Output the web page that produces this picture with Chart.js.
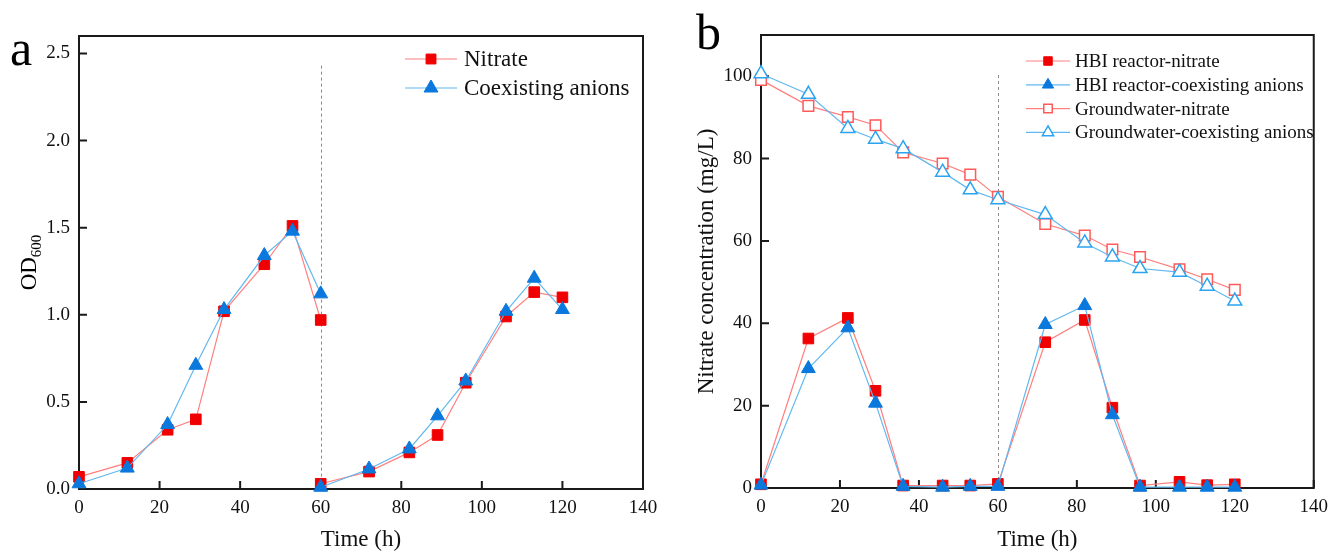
<!DOCTYPE html>
<html>
<head>
<meta charset="utf-8">
<script src="https://cdn.jsdelivr.net/npm/chart.js@4.4.1/dist/chart.umd.min.js"></script>
<style>
  html, body { margin: 0; padding: 0; background: #fff; }
  #wrap { position: relative; width: 1336px; height: 555px; }
  canvas { position: absolute; top: 0; }
  #odChart { left: 0; }
  #no3Chart { left: 668px; }
</style>
</head>
<body>
<div id="wrap">
  <canvas id="odChart" width="668" height="555"></canvas>
  <canvas id="no3Chart" width="668" height="555"></canvas>
</div>
<script>
// (a) OD600 over two feeding cycles, split at 60 h
const cycle1Time = [0, 12, 22, 29, 36, 46, 53, 60];
const cycle2Time = [60, 72, 82, 89, 96, 106, 113, 120];
const odNitrate1 = [0.07, 0.15, 0.34, 0.40, 1.02, 1.29, 1.51, 0.97];
const odNitrate2 = [0.03, 0.10, 0.21, 0.31, 0.61, 0.99, 1.13, 1.10];
const odAnions1 = [0.03, 0.12, 0.37, 0.71, 1.03, 1.34, 1.48, 1.12];
const odAnions2 = [0.01, 0.115, 0.23, 0.42, 0.62, 1.02, 1.21, 1.03];

// (b) nitrate concentration (mg/L)
const sampleTime = [0, 12, 22, 29, 36, 46, 53, 60, 72, 82, 89, 96, 106, 113, 120];
const hbiNitrate = [0.9, 36.3, 41.3, 23.6, 0.6, 0.6, 0.6, 1.0, 35.4, 40.8, 19.5, 0.6, 1.5, 0.7, 0.9];
const hbiAnions  = [0.7, 29.0, 38.9, 20.6, 0.4, 0.2, 0.4, 0.4, 39.7, 44.3, 17.8, 0.2, 0.2, 0.2, 0.2];
const gwNitrate  = [99.1, 92.8, 90.1, 88.1, 81.5, 78.8, 76.1, 70.7, 64.1, 61.3, 57.9, 56.1, 53.1, 50.7, 48.1];
const gwAnions   = [100.6, 95.6, 87.3, 84.7, 82.4, 76.7, 72.4, 70.0, 66.4, 59.5, 56.1, 53.3, 52.4, 49.0, 45.4];

const timeTicks = [0, 20, 40, 60, 80, 100, 120, 140];
const odTicks = [0, 0.5, 1.0, 1.5, 2.0, 2.5];
const concTicks = [0, 20, 40, 60, 80, 100];

const SERIF = "'Liberation Serif', 'Times New Roman', serif";
Chart.defaults.font.family = SERIF;
Chart.defaults.color = '#111';

const RED = '#f00000', RED_LINE = '#ff8080', RED_OPEN = '#ff5a5a';
const BLUE = '#0a78dc', BLUE_LINE = '#62b8f0', BLUE_OPEN = '#2aa4f0';

function pairs(xs, ys) {
  return xs.map((x, i) => ({ x: x, y: ys[i] }));
}
// join two cycles with a null point so the line breaks at the medium change
function twoCycles(y1, y2) {
  return pairs(cycle1Time, y1).concat([{ x: 60, y: null }], pairs(cycle2Time, y2));
}

function series(label, data, opts) {
  return Object.assign({
    label: label,
    data: data,
    borderWidth: 1.2,
    pointRadius: 7.5,
    pointHoverRadius: 7.5,
    pointBorderWidth: 1,
    clip: false,
    tension: 0,
    spanGaps: false
  }, opts);
}

function marker(ctx, style, r, x, y, fill, stroke, lw) {
  ctx.beginPath();
  if (style === 'rect') {
    const s = Math.SQRT1_2 * r;
    ctx.rect(x - s, y - s, 2 * s, 2 * s);
  } else {
    for (let k = 0; k < 3; k++) {
      const a = k * 2 * Math.PI / 3;
      const px = x + Math.sin(a) * r, py = y - Math.cos(a) * r;
      k ? ctx.lineTo(px, py) : ctx.moveTo(px, py);
    }
    ctx.closePath();
  }
  ctx.fillStyle = fill;
  ctx.fill();
  ctx.lineWidth = lw;
  ctx.strokeStyle = stroke;
  ctx.stroke();
}

// frame, inward ticks, 60 h divider, legend and panel letter
const panelDecor = {
  id: 'panelDecor',
  beforeDatasetsDraw(chart, args, opts) {
    const { ctx, chartArea: a, scales: { x, y } } = chart;
    ctx.save();
    ctx.strokeStyle = '#8a8a8a';
    ctx.lineWidth = 1;
    ctx.setLineDash([3, 3]);
    const dx = Math.round(x.getPixelForValue(opts.divider.x)) + 0.5;
    ctx.beginPath();
    ctx.moveTo(dx, y.getPixelForValue(opts.divider.top));
    ctx.lineTo(dx, a.bottom);
    ctx.stroke();
    ctx.setLineDash([]);

    ctx.strokeStyle = '#1a1a1a';
    ctx.lineWidth = 2;
    ctx.strokeRect(a.left, a.top, a.right - a.left, a.bottom - a.top);
    ctx.beginPath();
    x.ticks.forEach(t => {
      const px = x.getPixelForValue(t.value);
      ctx.moveTo(px, a.bottom);
      ctx.lineTo(px, a.bottom - 8);
    });
    y.ticks.forEach(t => {
      const py = y.getPixelForValue(t.value);
      ctx.moveTo(a.left, py);
      ctx.lineTo(a.left + 8, py);
    });
    ctx.stroke();
    ctx.restore();
  },
  afterDraw(chart, args, opts) {
    const ctx = chart.ctx;
    ctx.save();
    const lg = opts.legend;
    chart.data.datasets.forEach((ds, i) => {
      const yy = lg.y + i * lg.gap;
      ctx.strokeStyle = ds.borderColor;
      ctx.lineWidth = ds.borderWidth;
      ctx.beginPath();
      ctx.moveTo(lg.x, yy);
      ctx.lineTo(lg.x + lg.len, yy);
      ctx.stroke();
      const r = ds.pointStyle === 'rect' ? lg.rect : lg.tri;
      marker(ctx, ds.pointStyle, r, lg.x + lg.len / 2, yy,
        ds.pointBackgroundColor, ds.pointBorderColor, ds.pointBorderWidth);
      ctx.fillStyle = '#111';
      ctx.font = lg.size + 'px ' + SERIF;
      ctx.textAlign = 'left';
      ctx.textBaseline = 'middle';
      ctx.fillText(ds.label, lg.x + lg.len + lg.pad, yy + 1);
    });

    ctx.font = '50px ' + SERIF;
    ctx.textBaseline = 'alphabetic';
    ctx.fillStyle = '#000';
    ctx.fillText(opts.letter.text, opts.letter.x, opts.letter.y);

    if (opts.odTitle) {
      const a = chart.chartArea;
      ctx.translate(opts.odTitle.x, (a.top + a.bottom) / 2);
      ctx.rotate(-Math.PI / 2);
      ctx.font = '23px ' + SERIF;
      const w1 = ctx.measureText('OD').width;
      ctx.font = '15px ' + SERIF;
      const w2 = ctx.measureText('600').width;
      const x0 = -(w1 + w2) / 2;
      ctx.font = '23px ' + SERIF;
      ctx.fillText('OD', x0, 8);
      ctx.font = '15px ' + SERIF;
      ctx.fillText('600', x0 + w1, 13);
    }
    ctx.restore();
  }
};

function xScale(height) {
  return {
    type: 'linear',
    min: 0,
    max: 140,
    afterBuildTicks: s => { s.ticks = timeTicks.map(v => ({ value: v })); },
    afterFit: s => { s.height = height; },
    grid: { display: false, drawTicks: false },
    border: { display: false },
    ticks: { font: { size: 19 }, padding: 8, maxRotation: 0, autoSkip: false, color: '#111' },
    title: { display: true, text: 'Time (h)', font: { size: 23 }, color: '#111', padding: { top: 0, bottom: 1 } }
  };
}

new Chart(document.getElementById('odChart'), {
  type: 'line',
  data: {
    datasets: [
      series('Nitrate', twoCycles(odNitrate1, odNitrate2), {
        pointStyle: 'rect', borderColor: RED_LINE,
        pointBackgroundColor: RED, pointBorderColor: RED, order: 2
      }),
      series('Coexisting anions', twoCycles(odAnions1, odAnions2), {
        pointStyle: 'triangle', pointRadius: 8, pointHoverRadius: 8, borderColor: BLUE_LINE,
        pointBackgroundColor: BLUE, pointBorderColor: BLUE, order: 1
      })
    ]
  },
  options: {
    responsive: false,
    animation: false,
    events: [],
    layout: { padding: { left: 0, right: 25, top: 36, bottom: 0 } },
    scales: {
      x: xScale(66),
      y: {
        min: 0,
        max: 2.6,
        afterBuildTicks: s => { s.ticks = odTicks.map(v => ({ value: v })); },
        afterFit: s => { s.width = 79; },
        grid: { display: false, drawTicks: false },
        border: { display: false },
        ticks: { font: { size: 19 }, padding: 9, color: '#111', callback: v => v.toFixed(1) }
      }
    },
    plugins: {
      legend: { display: false },
      tooltip: { enabled: false },
      panelDecor: {
        divider: { x: 60, top: 2.43 },
        legend: { x: 405, y: 59, gap: 29, len: 52, pad: 7, size: 23, rect: 7, tri: 8 },
        letter: { text: 'a', x: 10, y: 65 },
        odTitle: { x: 28 }
      }
    }
  },
  plugins: [panelDecor]
});

new Chart(document.getElementById('no3Chart'), {
  type: 'line',
  data: {
    datasets: [
      series('HBI reactor-nitrate', pairs(sampleTime, hbiNitrate), {
        pointStyle: 'rect', borderColor: RED_LINE,
        pointBackgroundColor: RED, pointBorderColor: RED, order: 4
      }),
      series('HBI reactor-coexisting anions', pairs(sampleTime, hbiAnions), {
        pointStyle: 'triangle', pointRadius: 8, pointHoverRadius: 8, borderColor: BLUE_LINE,
        pointBackgroundColor: BLUE, pointBorderColor: BLUE, order: 3
      }),
      series('Groundwater-nitrate', pairs(sampleTime, gwNitrate), {
        pointStyle: 'rect', borderColor: RED_LINE, pointBorderWidth: 1.5,
        pointBackgroundColor: '#fff', pointBorderColor: RED_OPEN, order: 2
      }),
      series('Groundwater-coexisting anions', pairs(sampleTime, gwAnions), {
        pointStyle: 'triangle', pointRadius: 8, pointHoverRadius: 8, borderColor: BLUE_LINE,
        pointBorderWidth: 1.5, pointBackgroundColor: '#fff', pointBorderColor: BLUE_OPEN, order: 1
      })
    ]
  },
  options: {
    responsive: false,
    animation: false,
    events: [],
    layout: { padding: { left: 0, right: 13, top: 35, bottom: 0 } },
    scales: {
      x: xScale(67),
      y: {
        min: 0,
        max: 110,
        afterBuildTicks: s => { s.ticks = concTicks.map(v => ({ value: v })); },
        afterFit: s => { s.width = 93; },
        grid: { display: false, drawTicks: false },
        border: { display: false },
        ticks: { font: { size: 19 }, padding: 9, color: '#111' },
        title: {
          display: true, text: 'Nitrate concentration (mg/L)', font: { size: 23 },
          color: '#111', padding: { top: 25, bottom: 0 }
        }
      }
    },
    plugins: {
      legend: { display: false },
      tooltip: { enabled: false },
      panelDecor: {
        divider: { x: 60, top: 100.3 },
        legend: { x: 358, y: 61, gap: 23.8, len: 44, pad: 5, size: 19, rect: 6, tri: 6.5 },
        letter: { text: 'b', x: 28, y: 49 }
      }
    }
  },
  plugins: [panelDecor]
});
</script>
</body>
</html>
